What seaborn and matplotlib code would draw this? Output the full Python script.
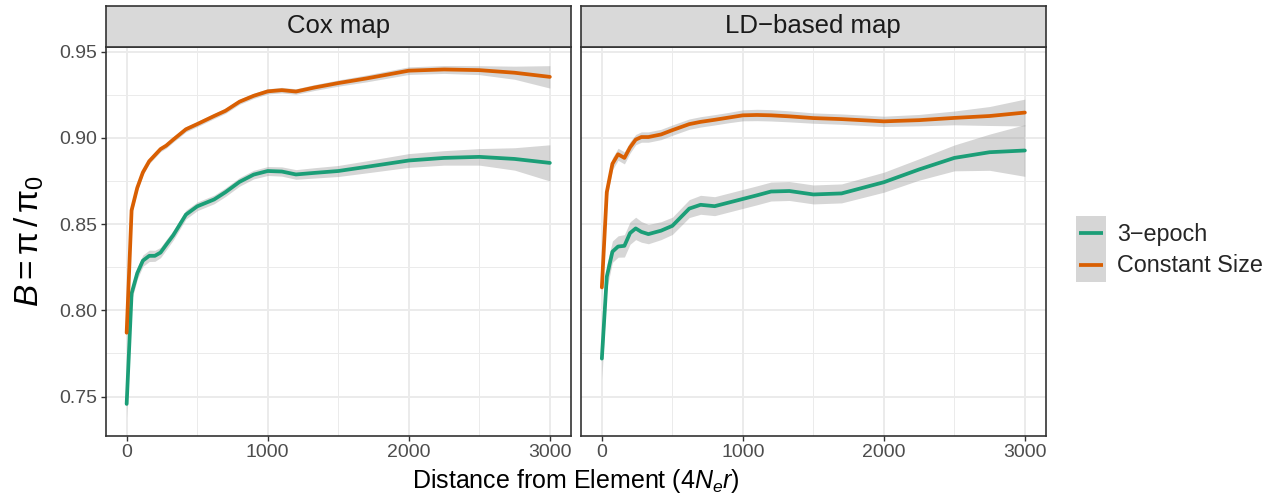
import numpy as np
import pandas as pd
import matplotlib
matplotlib.use("Agg")
import matplotlib.pyplot as plt
from matplotlib.patches import Rectangle
from matplotlib.lines import Line2D
from matplotlib.legend_handler import HandlerBase
from matplotlib.ticker import MultipleLocator
import seaborn as sns

# ---------------- data ----------------
distance = [0, 35, 75, 115, 160, 200, 240, 280, 330, 420, 500, 620, 700, 800, 900,
            1000, 1100, 1200, 1330, 1500, 1700, 2000, 2250, 2500, 2750, 3000]

cox_constant = [0.787, 0.858, 0.871, 0.880, 0.8865, 0.890, 0.8935, 0.8955, 0.899, 0.905,
                0.908, 0.9127, 0.9157, 0.921, 0.9244, 0.927, 0.9277, 0.9269, 0.9292, 0.9318,
                0.9345, 0.939, 0.9397, 0.9393, 0.9378, 0.9354]
cox_3epoch = [0.7457, 0.8098, 0.8215, 0.8288, 0.8316, 0.8316, 0.8335, 0.838, 0.8435, 0.8555,
              0.8603, 0.8643, 0.8685, 0.8745, 0.8787, 0.8808, 0.8805, 0.8788, 0.8797, 0.8808,
              0.8832, 0.8869, 0.8884, 0.889, 0.8878, 0.8855]
ld_constant = [0.8133, 0.8685, 0.885, 0.8905, 0.8884, 0.8945, 0.899, 0.9005, 0.9005, 0.902,
               0.9045, 0.908, 0.9093, 0.9105, 0.9118, 0.9131, 0.9133, 0.9131, 0.9125, 0.9115,
               0.9109, 0.9096, 0.9103, 0.9116, 0.9127, 0.9147]
ld_3epoch = [0.772, 0.8195, 0.834, 0.837, 0.8374, 0.8448, 0.8475, 0.8455, 0.8442, 0.8462,
             0.849, 0.859, 0.8612, 0.8604, 0.8625, 0.8646, 0.8667, 0.8689, 0.8692, 0.8672,
             0.8678, 0.8743, 0.8817, 0.8884, 0.8917, 0.8927]

# half-widths of the confidence ribbons
cox_constant_ci = [0.004, 0.0025, 0.0018, 0.0015, 0.0015, 0.0015, 0.0015, 0.0015, 0.0015, 0.0015,
                   0.0015, 0.0015, 0.0015, 0.0015, 0.0015, 0.0015, 0.0016, 0.0016, 0.0017, 0.0018,
                   0.002, 0.0022, 0.0023, 0.0026, 0.0038, 0.0065]
cox_3epoch_ci = [0.008, 0.004, 0.0035, 0.0033, 0.0033, 0.0032, 0.003, 0.003, 0.0028, 0.0026,
                 0.0025, 0.0025, 0.0025, 0.0025, 0.0025, 0.0026, 0.0027, 0.0028, 0.003, 0.0032,
                 0.0035, 0.004, 0.0042, 0.0048, 0.0065, 0.0105]
ld_constant_ci = [0.006, 0.004, 0.0035, 0.0035, 0.0035, 0.0033, 0.003, 0.003, 0.003, 0.003,
                  0.003, 0.003, 0.003, 0.003, 0.003, 0.0032, 0.0033, 0.0033, 0.0032, 0.003,
                  0.003, 0.003, 0.0033, 0.004, 0.0055, 0.0078]
ld_3epoch_ci = [0.012, 0.007, 0.0062, 0.0062, 0.0065, 0.0065, 0.0065, 0.006, 0.0056, 0.0052,
                0.005, 0.0052, 0.0055, 0.0055, 0.0055, 0.0055, 0.0055, 0.0055, 0.0055, 0.0055,
                0.0055, 0.0058, 0.0062, 0.0075, 0.0105, 0.015]

panels = ["Cox map", "LD\u2212based map"]
models = ["3\u2212epoch", "Constant Size"]
colors = {"3\u2212epoch": "#1B9E77", "Constant Size": "#D95F02"}

series = {
    ("Cox map", "3\u2212epoch"): (cox_3epoch, cox_3epoch_ci),
    ("Cox map", "Constant Size"): (cox_constant, cox_constant_ci),
    ("LD\u2212based map", "3\u2212epoch"): (ld_3epoch, ld_3epoch_ci),
    ("LD\u2212based map", "Constant Size"): (ld_constant, ld_constant_ci),
}

rows = []
for (panel, model), (vals, ci) in series.items():
    for d, v, c in zip(distance, vals, ci):
        rows.append(dict(panel=panel, model=model, distance=d, B=v, lo=v - c, hi=v + c))
df = pd.DataFrame(rows)

# ---------------- styling ----------------
sns.set_theme(style="white")
plt.rcParams["font.family"] = ["Liberation Sans", "DejaVu Sans"]
plt.rcParams["mathtext.fontset"] = "custom"
plt.rcParams["mathtext.rm"] = "Liberation Sans"
plt.rcParams["mathtext.it"] = "Liberation Sans:italic"
plt.rcParams["mathtext.sf"] = "Liberation Sans"

W, H = 1270, 497
fig = plt.figure(figsize=(W / 100, H / 100), dpi=100)
fig.patch.set_facecolor("white")

def fx(px):
    return px / W

def fy(py):
    return 1 - py / H

panel_x = [(105.5, 571.0), (580.7, 1046.0)]
strip_top, strip_bot, panel_bot = 5.7, 46.7, 436.0

border = "#333333"
for i, panel in enumerate(panels):
    x0, x1 = panel_x[i]
    ax = fig.add_axes([fx(x0), fy(panel_bot), fx(x1 - x0), (panel_bot - strip_bot) / H])
    sax = fig.add_axes([fx(x0), fy(strip_bot), fx(x1 - x0), (strip_bot - strip_top) / H])

    sub = df[df.panel == panel]
    for model in models:
        s = sub[sub.model == model]
        ax.fill_between(s.distance, s.lo, s.hi, color="#999999", alpha=0.4, lw=0, zorder=2)
    sns.lineplot(data=sub, x="distance", y="B", hue="model", hue_order=models,
                 palette=colors, ax=ax, legend=False, errorbar=None, lw=2.7, zorder=3,
                 sort=True)

    ax.set_xlim(-150, 3150)
    ax.set_ylim(0.7271, 0.9529)
    ax.xaxis.set_major_locator(MultipleLocator(1000))
    ax.xaxis.set_minor_locator(MultipleLocator(500))
    ax.yaxis.set_major_locator(MultipleLocator(0.05))
    ax.yaxis.set_minor_locator(MultipleLocator(0.025))
    ax.grid(True, which="major", color="#EBEBEB", lw=1.4, zorder=0)
    ax.grid(True, which="minor", color="#EBEBEB", lw=0.7, zorder=0)
    ax.set_axisbelow(True)
    for sp in ax.spines.values():
        sp.set_color(border)
        sp.set_linewidth(1.2)
        sp.set_visible(True)
    ax.tick_params(which="major", length=3.5, width=1.0, color=border,
                   labelsize=14, labelcolor="#4D4D4D", pad=2.5, bottom=True, left=(i == 0))
    ax.tick_params(which="minor", length=0)
    ax.set_xticks([0, 1000, 2000, 3000])
    ax.set_xticklabels(["0", "1000", "2000", "3000"])
    if i == 0:
        ax.yaxis.set_major_formatter(matplotlib.ticker.FormatStrFormatter("%.2f"))
    else:
        ax.set_yticklabels([])
        ax.tick_params(axis="y", which="both", left=False)
    ax.set_xlabel("")
    ax.set_ylabel("")

    sax.set_facecolor("#D9D9D9")
    sax.set_xticks([])
    sax.set_yticks([])
    for sp in sax.spines.values():
        sp.set_color(border)
        sp.set_linewidth(1.2)
        sp.set_visible(True)
    sax.text(0.5, 0.5, panel, ha="center", va="center", fontsize=18.5,
             color="#1A1A1A", transform=sax.transAxes)

# axis titles
fig.text(fx((105.5 + 1046) / 2), fy(481), r"Distance from Element ($\mathit{4}N_e r$)",
         ha="center", va="center", fontsize=18, color="black")
fig.text(fx(29), fy(241), r"$B=\mathrm{\pi}\,/\,\mathrm{\pi}_0$", ha="center", va="center",
         rotation=90, fontsize=24, color="black")


# legend: grey ribbon key with the coloured line on top (ggplot style)
class SmoothKey(HandlerBase):
    def create_artists(self, legend, orig_handle, xdescent, ydescent, width, height,
                       fontsize, trans):
        ext = 0.05 * height
        rect = Rectangle((-xdescent, -ydescent - ext), width, height + 2 * ext,
                         facecolor="#D6D6D6", edgecolor="none", transform=trans)
        yc = -ydescent + height / 2
        line = Line2D([-xdescent + 0.1 * width, -xdescent + 0.9 * width], [yc, yc],
                      color=orig_handle.get_color(), lw=orig_handle.get_linewidth(),
                      transform=trans, solid_capstyle="butt")
        return [rect, line]


handles = [Line2D([], [], color=colors[m], lw=2.7) for m in models]
fig.legend(handles, models, loc="upper left", bbox_to_anchor=(fx(1076), fy(217.5)),
           frameon=False, fontsize=16.8, handlelength=1.3, handleheight=1.7,
           labelspacing=0.0, handletextpad=0.45, borderpad=0, borderaxespad=0,
           handler_map={Line2D: SmoothKey()})

fig.savefig("out.png", dpi=100, facecolor="white")
